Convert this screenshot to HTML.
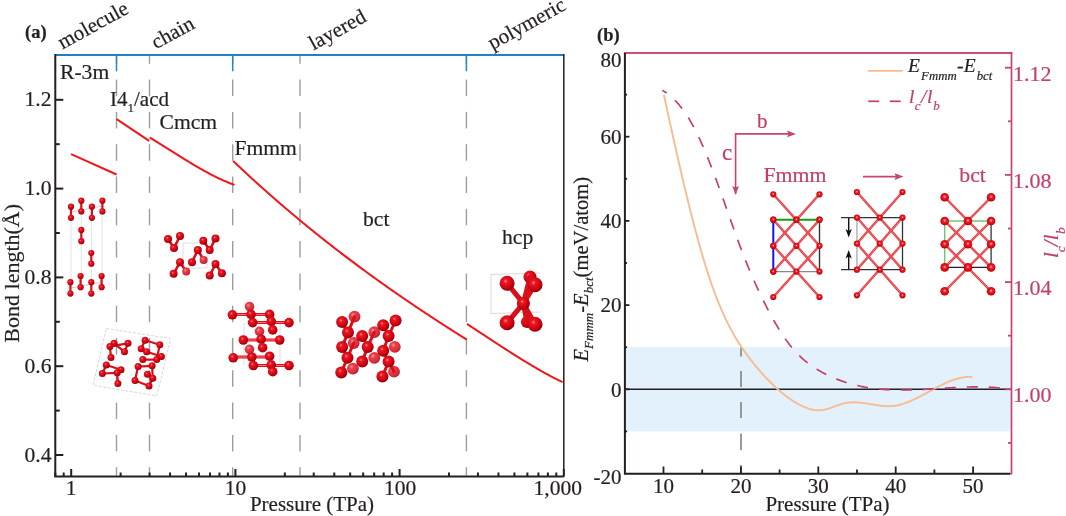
<!DOCTYPE html>
<html><head><meta charset="utf-8"><style>
html,body{margin:0;padding:0;background:#fff;width:1066px;height:516px;overflow:hidden}
svg{display:block;will-change:transform}
</style></head><body>
<svg width="1066" height="516" viewBox="0 0 1066 516">
<rect width="1066" height="516" fill="#fff"/>
<defs>
<radialGradient id="at" cx="0.4" cy="0.36" r="0.64"><stop offset="0" stop-color="#ff8c8c"/><stop offset="0.22" stop-color="#ec1822"/><stop offset="0.8" stop-color="#c4000e"/><stop offset="1" stop-color="#860008"/></radialGradient>
<radialGradient id="atl" cx="0.38" cy="0.35" r="0.65"><stop offset="0" stop-color="#ff9c9c"/><stop offset="0.3" stop-color="#e8404a"/><stop offset="0.85" stop-color="#d42a36"/><stop offset="1" stop-color="#a81c28"/></radialGradient>
<radialGradient id="sat" cx="0.5" cy="0.45" r="0.55"><stop offset="0" stop-color="#ffc8c8"/><stop offset="0.35" stop-color="#f01c24"/><stop offset="0.85" stop-color="#d0000c"/><stop offset="1" stop-color="#a00008"/></radialGradient>
</defs>
<line x1="116.5" y1="56.0" x2="116.5" y2="63.8" stroke="#9d9d9d" stroke-width="1.4"/>
<line x1="116.5" y1="79.6" x2="116.5" y2="96.1" stroke="#9d9d9d" stroke-width="1.4"/>
<line x1="116.5" y1="111.9" x2="116.5" y2="128.4" stroke="#9d9d9d" stroke-width="1.4"/>
<line x1="116.5" y1="144.2" x2="116.5" y2="160.7" stroke="#9d9d9d" stroke-width="1.4"/>
<line x1="116.5" y1="176.5" x2="116.5" y2="193.0" stroke="#9d9d9d" stroke-width="1.4"/>
<line x1="116.5" y1="208.8" x2="116.5" y2="225.3" stroke="#9d9d9d" stroke-width="1.4"/>
<line x1="116.5" y1="241.1" x2="116.5" y2="257.6" stroke="#9d9d9d" stroke-width="1.4"/>
<line x1="116.5" y1="273.4" x2="116.5" y2="289.9" stroke="#9d9d9d" stroke-width="1.4"/>
<line x1="116.5" y1="305.7" x2="116.5" y2="322.2" stroke="#9d9d9d" stroke-width="1.4"/>
<line x1="116.5" y1="338.0" x2="116.5" y2="354.5" stroke="#9d9d9d" stroke-width="1.4"/>
<line x1="116.5" y1="370.3" x2="116.5" y2="386.8" stroke="#9d9d9d" stroke-width="1.4"/>
<line x1="116.5" y1="402.6" x2="116.5" y2="419.1" stroke="#9d9d9d" stroke-width="1.4"/>
<line x1="116.5" y1="434.9" x2="116.5" y2="451.4" stroke="#9d9d9d" stroke-width="1.4"/>
<line x1="116.5" y1="467.2" x2="116.5" y2="475.5" stroke="#9d9d9d" stroke-width="1.4"/>
<line x1="149.5" y1="56.0" x2="149.5" y2="63.8" stroke="#9d9d9d" stroke-width="1.4"/>
<line x1="149.5" y1="79.6" x2="149.5" y2="96.1" stroke="#9d9d9d" stroke-width="1.4"/>
<line x1="149.5" y1="111.9" x2="149.5" y2="128.4" stroke="#9d9d9d" stroke-width="1.4"/>
<line x1="149.5" y1="144.2" x2="149.5" y2="160.7" stroke="#9d9d9d" stroke-width="1.4"/>
<line x1="149.5" y1="176.5" x2="149.5" y2="193.0" stroke="#9d9d9d" stroke-width="1.4"/>
<line x1="149.5" y1="208.8" x2="149.5" y2="225.3" stroke="#9d9d9d" stroke-width="1.4"/>
<line x1="149.5" y1="241.1" x2="149.5" y2="257.6" stroke="#9d9d9d" stroke-width="1.4"/>
<line x1="149.5" y1="273.4" x2="149.5" y2="289.9" stroke="#9d9d9d" stroke-width="1.4"/>
<line x1="149.5" y1="305.7" x2="149.5" y2="322.2" stroke="#9d9d9d" stroke-width="1.4"/>
<line x1="149.5" y1="338.0" x2="149.5" y2="354.5" stroke="#9d9d9d" stroke-width="1.4"/>
<line x1="149.5" y1="370.3" x2="149.5" y2="386.8" stroke="#9d9d9d" stroke-width="1.4"/>
<line x1="149.5" y1="402.6" x2="149.5" y2="419.1" stroke="#9d9d9d" stroke-width="1.4"/>
<line x1="149.5" y1="434.9" x2="149.5" y2="451.4" stroke="#9d9d9d" stroke-width="1.4"/>
<line x1="149.5" y1="467.2" x2="149.5" y2="475.5" stroke="#9d9d9d" stroke-width="1.4"/>
<line x1="232.7" y1="56.0" x2="232.7" y2="63.8" stroke="#9d9d9d" stroke-width="1.4"/>
<line x1="232.7" y1="79.6" x2="232.7" y2="96.1" stroke="#9d9d9d" stroke-width="1.4"/>
<line x1="232.7" y1="111.9" x2="232.7" y2="128.4" stroke="#9d9d9d" stroke-width="1.4"/>
<line x1="232.7" y1="144.2" x2="232.7" y2="160.7" stroke="#9d9d9d" stroke-width="1.4"/>
<line x1="232.7" y1="176.5" x2="232.7" y2="193.0" stroke="#9d9d9d" stroke-width="1.4"/>
<line x1="232.7" y1="208.8" x2="232.7" y2="225.3" stroke="#9d9d9d" stroke-width="1.4"/>
<line x1="232.7" y1="241.1" x2="232.7" y2="257.6" stroke="#9d9d9d" stroke-width="1.4"/>
<line x1="232.7" y1="273.4" x2="232.7" y2="289.9" stroke="#9d9d9d" stroke-width="1.4"/>
<line x1="232.7" y1="305.7" x2="232.7" y2="322.2" stroke="#9d9d9d" stroke-width="1.4"/>
<line x1="232.7" y1="338.0" x2="232.7" y2="354.5" stroke="#9d9d9d" stroke-width="1.4"/>
<line x1="232.7" y1="370.3" x2="232.7" y2="386.8" stroke="#9d9d9d" stroke-width="1.4"/>
<line x1="232.7" y1="402.6" x2="232.7" y2="419.1" stroke="#9d9d9d" stroke-width="1.4"/>
<line x1="232.7" y1="434.9" x2="232.7" y2="451.4" stroke="#9d9d9d" stroke-width="1.4"/>
<line x1="232.7" y1="467.2" x2="232.7" y2="475.5" stroke="#9d9d9d" stroke-width="1.4"/>
<line x1="300.0" y1="56.0" x2="300.0" y2="63.8" stroke="#9d9d9d" stroke-width="1.4"/>
<line x1="300.0" y1="79.6" x2="300.0" y2="96.1" stroke="#9d9d9d" stroke-width="1.4"/>
<line x1="300.0" y1="111.9" x2="300.0" y2="128.4" stroke="#9d9d9d" stroke-width="1.4"/>
<line x1="300.0" y1="144.2" x2="300.0" y2="160.7" stroke="#9d9d9d" stroke-width="1.4"/>
<line x1="300.0" y1="176.5" x2="300.0" y2="193.0" stroke="#9d9d9d" stroke-width="1.4"/>
<line x1="300.0" y1="208.8" x2="300.0" y2="225.3" stroke="#9d9d9d" stroke-width="1.4"/>
<line x1="300.0" y1="241.1" x2="300.0" y2="257.6" stroke="#9d9d9d" stroke-width="1.4"/>
<line x1="300.0" y1="273.4" x2="300.0" y2="289.9" stroke="#9d9d9d" stroke-width="1.4"/>
<line x1="300.0" y1="305.7" x2="300.0" y2="322.2" stroke="#9d9d9d" stroke-width="1.4"/>
<line x1="300.0" y1="338.0" x2="300.0" y2="354.5" stroke="#9d9d9d" stroke-width="1.4"/>
<line x1="300.0" y1="370.3" x2="300.0" y2="386.8" stroke="#9d9d9d" stroke-width="1.4"/>
<line x1="300.0" y1="402.6" x2="300.0" y2="419.1" stroke="#9d9d9d" stroke-width="1.4"/>
<line x1="300.0" y1="434.9" x2="300.0" y2="451.4" stroke="#9d9d9d" stroke-width="1.4"/>
<line x1="300.0" y1="467.2" x2="300.0" y2="475.5" stroke="#9d9d9d" stroke-width="1.4"/>
<line x1="466.4" y1="56.0" x2="466.4" y2="63.8" stroke="#9d9d9d" stroke-width="1.4"/>
<line x1="466.4" y1="79.6" x2="466.4" y2="96.1" stroke="#9d9d9d" stroke-width="1.4"/>
<line x1="466.4" y1="111.9" x2="466.4" y2="128.4" stroke="#9d9d9d" stroke-width="1.4"/>
<line x1="466.4" y1="144.2" x2="466.4" y2="160.7" stroke="#9d9d9d" stroke-width="1.4"/>
<line x1="466.4" y1="176.5" x2="466.4" y2="193.0" stroke="#9d9d9d" stroke-width="1.4"/>
<line x1="466.4" y1="208.8" x2="466.4" y2="225.3" stroke="#9d9d9d" stroke-width="1.4"/>
<line x1="466.4" y1="241.1" x2="466.4" y2="257.6" stroke="#9d9d9d" stroke-width="1.4"/>
<line x1="466.4" y1="273.4" x2="466.4" y2="289.9" stroke="#9d9d9d" stroke-width="1.4"/>
<line x1="466.4" y1="305.7" x2="466.4" y2="322.2" stroke="#9d9d9d" stroke-width="1.4"/>
<line x1="466.4" y1="338.0" x2="466.4" y2="354.5" stroke="#9d9d9d" stroke-width="1.4"/>
<line x1="466.4" y1="370.3" x2="466.4" y2="386.8" stroke="#9d9d9d" stroke-width="1.4"/>
<line x1="466.4" y1="402.6" x2="466.4" y2="419.1" stroke="#9d9d9d" stroke-width="1.4"/>
<line x1="466.4" y1="434.9" x2="466.4" y2="451.4" stroke="#9d9d9d" stroke-width="1.4"/>
<line x1="466.4" y1="467.2" x2="466.4" y2="475.5" stroke="#9d9d9d" stroke-width="1.4"/>
<path d="M71.1,154.1 L116.6,174.5" fill="none" stroke="#f2151b" stroke-width="2"/>
<path d="M116.6,119.2 L149.2,140.9" fill="none" stroke="#f2151b" stroke-width="2"/>
<path d="M149.70,137.52 L150.70,138.13 L151.70,138.73 L152.70,139.34 L153.70,139.95 L154.70,140.57 L155.70,141.18 L156.70,141.80 L157.70,142.42 L158.70,143.04 L159.70,143.66 L160.70,144.28 L161.70,144.91 L162.70,145.53 L163.70,146.16 L164.70,146.79 L165.70,147.42 L166.70,148.05 L167.70,148.68 L168.70,149.31 L169.70,149.94 L170.70,150.57 L171.70,151.20 L172.70,151.83 L173.70,152.46 L174.70,153.08 L175.70,153.71 L176.70,154.34 L177.70,154.97 L178.70,155.59 L179.70,156.22 L180.70,156.84 L181.70,157.46 L182.70,158.08 L183.70,158.70 L184.70,159.32 L185.70,159.93 L186.70,160.55 L187.70,161.16 L188.70,161.77 L189.70,162.37 L190.70,162.97 L191.70,163.58 L192.70,164.17 L193.70,164.77 L194.70,165.36 L195.70,165.95 L196.70,166.53 L197.70,167.12 L198.70,167.69 L199.70,168.27 L200.70,168.84 L201.70,169.40 L202.70,169.97 L203.70,170.53 L204.70,171.08 L205.70,171.63 L206.70,172.17 L207.70,172.71 L208.70,173.25 L209.70,173.78 L210.70,174.30 L211.70,174.82 L212.70,175.33 L213.70,175.84 L214.70,176.34 L215.70,176.84 L216.70,177.33 L217.70,177.81 L218.70,178.29 L219.70,178.76 L220.70,179.23 L221.70,179.69 L222.70,180.14 L223.70,180.58 L224.70,181.02 L225.70,181.45 L226.70,181.88 L227.70,182.29 L228.70,182.70 L229.70,183.10 L230.70,183.49 L231.70,183.88 L232.70,184.26 L233.70,184.62 L234.50,184.91" fill="none" stroke="#f2151b" stroke-width="2" stroke-linejoin="round"/>
<path d="M233.10,160.92 L234.10,161.87 L235.10,162.82 L236.10,163.77 L237.10,164.71 L238.10,165.65 L239.10,166.59 L240.10,167.53 L241.10,168.47 L242.10,169.40 L243.10,170.34 L244.10,171.27 L245.10,172.19 L246.10,173.12 L247.10,174.05 L248.10,174.97 L249.10,175.89 L250.10,176.81 L251.10,177.73 L252.10,178.64 L253.10,179.55 L254.10,180.46 L255.10,181.37 L256.10,182.28 L257.10,183.19 L258.10,184.09 L259.10,184.99 L260.10,185.89 L261.10,186.79 L262.10,187.69 L263.10,188.58 L264.10,189.47 L265.10,190.37 L266.10,191.25 L267.10,192.14 L268.10,193.03 L269.10,193.91 L270.10,194.79 L271.10,195.67 L272.10,196.55 L273.10,197.43 L274.10,198.30 L275.10,199.17 L276.10,200.05 L277.10,200.91 L278.10,201.78 L279.10,202.65 L280.10,203.51 L281.10,204.37 L282.10,205.23 L283.10,206.09 L284.10,206.95 L285.10,207.80 L286.10,208.66 L287.10,209.51 L288.10,210.36 L289.10,211.21 L290.10,212.05 L291.10,212.90 L292.10,213.74 L293.10,214.58 L294.10,215.42 L295.10,216.26 L296.10,217.10 L297.10,217.93 L298.10,218.77 L299.10,219.60 L300.10,220.43 L301.10,221.26 L302.10,222.08 L303.10,222.91 L304.10,223.73 L305.10,224.55 L306.10,225.37 L307.10,226.19 L308.10,227.01 L309.10,227.82 L310.10,228.63 L311.10,229.45 L312.10,230.26 L313.10,231.07 L314.10,231.87 L315.10,232.68 L316.10,233.48 L317.10,234.28 L318.10,235.09 L319.10,235.88 L320.10,236.68 L321.10,237.48 L322.10,238.27 L323.10,239.07 L324.10,239.86 L325.10,240.65 L326.10,241.44 L327.10,242.22 L328.10,243.01 L329.10,243.79 L330.10,244.57 L331.10,245.36 L332.10,246.14 L333.10,246.91 L334.10,247.69 L335.10,248.46 L336.10,249.24 L337.10,250.01 L338.10,250.78 L339.10,251.55 L340.10,252.32 L341.10,253.08 L342.10,253.85 L343.10,254.61 L344.10,255.37 L345.10,256.13 L346.10,256.89 L347.10,257.65 L348.10,258.41 L349.10,259.16 L350.10,259.92 L351.10,260.67 L352.10,261.42 L353.10,262.17 L354.10,262.92 L355.10,263.66 L356.10,264.41 L357.10,265.15 L358.10,265.89 L359.10,266.63 L360.10,267.37 L361.10,268.11 L362.10,268.85 L363.10,269.58 L364.10,270.32 L365.10,271.05 L366.10,271.78 L367.10,272.51 L368.10,273.24 L369.10,273.97 L370.10,274.70 L371.10,275.42 L372.10,276.15 L373.10,276.87 L374.10,277.59 L375.10,278.31 L376.10,279.03 L377.10,279.75 L378.10,280.46 L379.10,281.18 L380.10,281.89 L381.10,282.61 L382.10,283.32 L383.10,284.03 L384.10,284.74 L385.10,285.44 L386.10,286.15 L387.10,286.85 L388.10,287.56 L389.10,288.26 L390.10,288.96 L391.10,289.66 L392.10,290.36 L393.10,291.06 L394.10,291.76 L395.10,292.45 L396.10,293.15 L397.10,293.84 L398.10,294.53 L399.10,295.22 L400.10,295.91 L401.10,296.60 L402.10,297.29 L403.10,297.98 L404.10,298.66 L405.10,299.35 L406.10,300.03 L407.10,300.71 L408.10,301.39 L409.10,302.07 L410.10,302.75 L411.10,303.43 L412.10,304.11 L413.10,304.78 L414.10,305.46 L415.10,306.13 L416.10,306.80 L417.10,307.47 L418.10,308.14 L419.10,308.81 L420.10,309.48 L421.10,310.15 L422.10,310.81 L423.10,311.48 L424.10,312.14 L425.10,312.81 L426.10,313.47 L427.10,314.13 L428.10,314.79 L429.10,315.45 L430.10,316.11 L431.10,316.76 L432.10,317.42 L433.10,318.08 L434.10,318.73 L435.10,319.38 L436.10,320.03 L437.10,320.69 L438.10,321.34 L439.10,321.99 L440.10,322.63 L441.10,323.28 L442.10,323.93 L443.10,324.57 L444.10,325.22 L445.10,325.86 L446.10,326.50 L447.10,327.15 L448.10,327.79 L449.10,328.43 L450.10,329.07 L451.10,329.71 L452.10,330.34 L453.10,330.98 L454.10,331.62 L455.10,332.25 L456.10,332.89 L457.10,333.52 L458.10,334.15 L459.10,334.78 L460.10,335.41 L461.10,336.04 L462.10,336.67 L463.10,337.30 L464.10,337.93 L465.10,338.55 L466.10,339.18 L466.70,339.56" fill="none" stroke="#f2151b" stroke-width="2" stroke-linejoin="round"/>
<path d="M467.00,323.96 L468.00,324.61 L469.00,325.26 L470.00,325.92 L471.00,326.57 L472.00,327.22 L473.00,327.88 L474.00,328.53 L475.00,329.18 L476.00,329.84 L477.00,330.50 L478.00,331.15 L479.00,331.81 L480.00,332.47 L481.00,333.12 L482.00,333.78 L483.00,334.44 L484.00,335.09 L485.00,335.75 L486.00,336.41 L487.00,337.07 L488.00,337.72 L489.00,338.38 L490.00,339.04 L491.00,339.69 L492.00,340.35 L493.00,341.00 L494.00,341.66 L495.00,342.31 L496.00,342.97 L497.00,343.62 L498.00,344.27 L499.00,344.92 L500.00,345.57 L501.00,346.22 L502.00,346.87 L503.00,347.52 L504.00,348.16 L505.00,348.81 L506.00,349.45 L507.00,350.10 L508.00,350.74 L509.00,351.38 L510.00,352.02 L511.00,352.65 L512.00,353.29 L513.00,353.93 L514.00,354.56 L515.00,355.19 L516.00,355.82 L517.00,356.45 L518.00,357.07 L519.00,357.70 L520.00,358.32 L521.00,358.94 L522.00,359.55 L523.00,360.17 L524.00,360.78 L525.00,361.40 L526.00,362.00 L527.00,362.61 L528.00,363.21 L529.00,363.82 L530.00,364.42 L531.00,365.01 L532.00,365.61 L533.00,366.20 L534.00,366.79 L535.00,367.37 L536.00,367.96 L537.00,368.54 L538.00,369.11 L539.00,369.69 L540.00,370.26 L541.00,370.83 L542.00,371.39 L543.00,371.95 L544.00,372.51 L545.00,373.07 L546.00,373.62 L547.00,374.17 L548.00,374.71 L549.00,375.25 L550.00,375.79 L551.00,376.32 L552.00,376.85 L553.00,377.38 L554.00,377.90 L555.00,378.42 L556.00,378.93 L557.00,379.44 L558.00,379.95 L559.00,380.45 L560.00,380.95 L561.00,381.45 L562.00,381.94 L562.50,382.18" fill="none" stroke="#f2151b" stroke-width="2" stroke-linejoin="round"/>
<line x1="55.3" y1="55.0" x2="563.8" y2="55.0" stroke="#1f80c8" stroke-width="2.1"/>
<path d="M55.3,54.0 V476.5 H563.8" fill="none" stroke="#231f20" stroke-width="2"/>
<line x1="563.8" y1="54.0" x2="563.8" y2="476.5" stroke="#231f20" stroke-width="1.5"/>
<line x1="116.5" y1="55.0" x2="116.5" y2="71.3" stroke="#2485cc" stroke-width="1.5"/>
<line x1="232.7" y1="55.0" x2="232.7" y2="71.3" stroke="#2485cc" stroke-width="1.5"/>
<line x1="466.4" y1="55.0" x2="466.4" y2="71.3" stroke="#2485cc" stroke-width="1.5"/>
<line x1="55.3" y1="455.00" x2="63.3" y2="455.00" stroke="#231f20" stroke-width="2"/>
<text x="51.5" y="461.60" text-anchor="end" font-size="21.6" font-family="Liberation Serif, serif" fill="#231f20" stroke="#231f20" stroke-width="0.2">0.4</text>
<line x1="55.3" y1="366.20" x2="63.3" y2="366.20" stroke="#231f20" stroke-width="2"/>
<text x="51.5" y="372.80" text-anchor="end" font-size="21.6" font-family="Liberation Serif, serif" fill="#231f20" stroke="#231f20" stroke-width="0.2">0.6</text>
<line x1="55.3" y1="277.40" x2="63.3" y2="277.40" stroke="#231f20" stroke-width="2"/>
<text x="51.5" y="284.00" text-anchor="end" font-size="21.6" font-family="Liberation Serif, serif" fill="#231f20" stroke="#231f20" stroke-width="0.2">0.8</text>
<line x1="55.3" y1="188.60" x2="63.3" y2="188.60" stroke="#231f20" stroke-width="2"/>
<text x="51.5" y="195.20" text-anchor="end" font-size="21.6" font-family="Liberation Serif, serif" fill="#231f20" stroke="#231f20" stroke-width="0.2">1.0</text>
<line x1="55.3" y1="99.80" x2="63.3" y2="99.80" stroke="#231f20" stroke-width="2"/>
<text x="51.5" y="106.40" text-anchor="end" font-size="21.6" font-family="Liberation Serif, serif" fill="#231f20" stroke="#231f20" stroke-width="0.2">1.2</text>
<line x1="55.3" y1="410.60" x2="59.8" y2="410.60" stroke="#231f20" stroke-width="2"/>
<line x1="55.3" y1="321.80" x2="59.8" y2="321.80" stroke="#231f20" stroke-width="2"/>
<line x1="55.3" y1="233.00" x2="59.8" y2="233.00" stroke="#231f20" stroke-width="2"/>
<line x1="55.3" y1="144.20" x2="59.8" y2="144.20" stroke="#231f20" stroke-width="2"/>
<line x1="71.20" y1="476.5" x2="71.20" y2="469.0" stroke="#231f20" stroke-width="2"/>
<line x1="235.40" y1="476.5" x2="235.40" y2="469.0" stroke="#231f20" stroke-width="2"/>
<line x1="399.60" y1="476.5" x2="399.60" y2="469.0" stroke="#231f20" stroke-width="2"/>
<line x1="563.80" y1="476.5" x2="563.80" y2="469.0" stroke="#231f20" stroke-width="2"/>
<line x1="55.29" y1="476.5" x2="55.29" y2="472.5" stroke="#231f20" stroke-width="2"/>
<line x1="63.69" y1="476.5" x2="63.69" y2="472.5" stroke="#231f20" stroke-width="2"/>
<line x1="120.63" y1="476.5" x2="120.63" y2="472.5" stroke="#231f20" stroke-width="2"/>
<line x1="149.54" y1="476.5" x2="149.54" y2="472.5" stroke="#231f20" stroke-width="2"/>
<line x1="170.06" y1="476.5" x2="170.06" y2="472.5" stroke="#231f20" stroke-width="2"/>
<line x1="185.97" y1="476.5" x2="185.97" y2="472.5" stroke="#231f20" stroke-width="2"/>
<line x1="198.97" y1="476.5" x2="198.97" y2="472.5" stroke="#231f20" stroke-width="2"/>
<line x1="209.97" y1="476.5" x2="209.97" y2="472.5" stroke="#231f20" stroke-width="2"/>
<line x1="219.49" y1="476.5" x2="219.49" y2="472.5" stroke="#231f20" stroke-width="2"/>
<line x1="227.89" y1="476.5" x2="227.89" y2="472.5" stroke="#231f20" stroke-width="2"/>
<line x1="284.83" y1="476.5" x2="284.83" y2="472.5" stroke="#231f20" stroke-width="2"/>
<line x1="313.74" y1="476.5" x2="313.74" y2="472.5" stroke="#231f20" stroke-width="2"/>
<line x1="334.26" y1="476.5" x2="334.26" y2="472.5" stroke="#231f20" stroke-width="2"/>
<line x1="350.17" y1="476.5" x2="350.17" y2="472.5" stroke="#231f20" stroke-width="2"/>
<line x1="363.17" y1="476.5" x2="363.17" y2="472.5" stroke="#231f20" stroke-width="2"/>
<line x1="374.17" y1="476.5" x2="374.17" y2="472.5" stroke="#231f20" stroke-width="2"/>
<line x1="383.69" y1="476.5" x2="383.69" y2="472.5" stroke="#231f20" stroke-width="2"/>
<line x1="392.09" y1="476.5" x2="392.09" y2="472.5" stroke="#231f20" stroke-width="2"/>
<line x1="449.03" y1="476.5" x2="449.03" y2="472.5" stroke="#231f20" stroke-width="2"/>
<line x1="477.94" y1="476.5" x2="477.94" y2="472.5" stroke="#231f20" stroke-width="2"/>
<line x1="498.46" y1="476.5" x2="498.46" y2="472.5" stroke="#231f20" stroke-width="2"/>
<line x1="514.37" y1="476.5" x2="514.37" y2="472.5" stroke="#231f20" stroke-width="2"/>
<line x1="527.37" y1="476.5" x2="527.37" y2="472.5" stroke="#231f20" stroke-width="2"/>
<line x1="538.37" y1="476.5" x2="538.37" y2="472.5" stroke="#231f20" stroke-width="2"/>
<line x1="547.89" y1="476.5" x2="547.89" y2="472.5" stroke="#231f20" stroke-width="2"/>
<line x1="556.29" y1="476.5" x2="556.29" y2="472.5" stroke="#231f20" stroke-width="2"/>
<text x="71.20" y="494.5" text-anchor="middle" font-size="21.5" font-family="Liberation Serif, serif" fill="#231f20" stroke="#231f20" stroke-width="0.2">1</text>
<text x="235.40" y="494.5" text-anchor="middle" font-size="21.5" font-family="Liberation Serif, serif" fill="#231f20" stroke="#231f20" stroke-width="0.2">10</text>
<text x="400.10" y="494.5" text-anchor="middle" font-size="21.5" font-family="Liberation Serif, serif" fill="#231f20" stroke="#231f20" stroke-width="0.2">100</text>
<text x="557.80" y="494.5" text-anchor="middle" font-size="21.5" font-family="Liberation Serif, serif" fill="#231f20" stroke="#231f20" stroke-width="0.2">1,000</text>
<text x="312" y="510.5" text-anchor="middle" font-size="21" font-family="Liberation Serif, serif" fill="#231f20" stroke="#231f20" stroke-width="0.2">Pressure (TPa)</text>
<text transform="translate(18.8,273.3) rotate(-90)" text-anchor="middle" font-size="22" font-family="Liberation Serif, serif" fill="#231f20" stroke="#231f20" stroke-width="0.2">Bond length(Å)</text>
<text x="25" y="37.5" font-size="18.5" font-weight="bold" font-family="Liberation Serif, serif" fill="#231f20" stroke="#231f20" stroke-width="0.2">(a)</text>
<text transform="translate(62.5,49.5) rotate(-28.8)" font-size="21" font-family="Liberation Serif, serif" fill="#231f20" stroke="#231f20" stroke-width="0.2">molecule</text>
<text transform="translate(156.0,49.5) rotate(-28.8)" font-size="21" font-family="Liberation Serif, serif" fill="#231f20" stroke="#231f20" stroke-width="0.2">chain</text>
<text transform="translate(313.5,50.5) rotate(-28.8)" font-size="21" font-family="Liberation Serif, serif" fill="#231f20" stroke="#231f20" stroke-width="0.2">layered</text>
<text transform="translate(492.5,50.0) rotate(-28.8)" font-size="21" font-family="Liberation Serif, serif" fill="#231f20" stroke="#231f20" stroke-width="0.2">polymeric</text>
<text x="60.0" y="79.0" font-size="21.6" font-family="Liberation Serif, serif" fill="#231f20" stroke="#231f20" stroke-width="0.2">R-3m</text>
<text x="159.5" y="129.4" font-size="21.6" font-family="Liberation Serif, serif" fill="#231f20" stroke="#231f20" stroke-width="0.2">Cmcm</text>
<text x="234.5" y="154.5" font-size="21.6" font-family="Liberation Serif, serif" fill="#231f20" stroke="#231f20" stroke-width="0.2">Fmmm</text>
<text x="363.0" y="226.4" font-size="21.6" font-family="Liberation Serif, serif" fill="#231f20" stroke="#231f20" stroke-width="0.2">bct</text>
<text x="502.0" y="243.5" font-size="21.6" font-family="Liberation Serif, serif" fill="#231f20" stroke="#231f20" stroke-width="0.2">hcp</text>
<text x="110" y="106.2" font-size="21" font-family="Liberation Serif, serif" fill="#231f20" stroke="#231f20" stroke-width="0.2">I4<tspan font-size="13" dy="6">1</tspan><tspan dy="-6">/acd</tspan></text>
<line x1="71.0" y1="212.0" x2="71.0" y2="288.0" stroke="#d0d0d0" stroke-width="0.6"/>
<line x1="102.0" y1="206.0" x2="102.0" y2="282.0" stroke="#d0d0d0" stroke-width="0.6"/>
<line x1="81.3" y1="206.0" x2="81.3" y2="282.0" stroke="#d0d0d0" stroke-width="0.6"/>
<line x1="91.6" y1="212.0" x2="91.6" y2="288.0" stroke="#d0d0d0" stroke-width="0.6"/>
<line x1="71.0" y1="212.0" x2="102.0" y2="206.0" stroke="#b0b0b0" stroke-width="0.6"/>
<line x1="71.0" y1="288.0" x2="102.0" y2="282.0" stroke="#b0b0b0" stroke-width="0.6"/>
<line x1="71.0" y1="206.7" x2="71.0" y2="217.8" stroke="#d8101a" stroke-width="2.2" stroke-linecap="round"/>
<circle cx="71.0" cy="206.7" r="3.1" fill="url(#at)"/>
<circle cx="71.0" cy="217.8" r="3.1" fill="url(#at)"/>
<line x1="81.3" y1="200.7" x2="81.3" y2="211.4" stroke="#d8101a" stroke-width="2.2" stroke-linecap="round"/>
<circle cx="81.3" cy="200.7" r="3.1" fill="url(#at)"/>
<circle cx="81.3" cy="211.4" r="3.1" fill="url(#at)"/>
<line x1="91.9" y1="206.7" x2="91.9" y2="217.8" stroke="#d8101a" stroke-width="2.2" stroke-linecap="round"/>
<circle cx="91.9" cy="206.7" r="3.1" fill="url(#at)"/>
<circle cx="91.9" cy="217.8" r="3.1" fill="url(#at)"/>
<line x1="102.4" y1="200.7" x2="102.4" y2="211.4" stroke="#d8101a" stroke-width="2.2" stroke-linecap="round"/>
<circle cx="102.4" cy="200.7" r="3.1" fill="url(#at)"/>
<circle cx="102.4" cy="211.4" r="3.1" fill="url(#at)"/>
<line x1="81.3" y1="229.9" x2="81.3" y2="241.2" stroke="#d8101a" stroke-width="2.2" stroke-linecap="round"/>
<circle cx="81.3" cy="229.9" r="3.1" fill="url(#at)"/>
<circle cx="81.3" cy="241.2" r="3.1" fill="url(#at)"/>
<line x1="91.3" y1="253.0" x2="91.3" y2="263.7" stroke="#d8101a" stroke-width="2.2" stroke-linecap="round"/>
<circle cx="91.3" cy="253.0" r="3.1" fill="url(#at)"/>
<circle cx="91.3" cy="263.7" r="3.1" fill="url(#at)"/>
<line x1="70.4" y1="282.2" x2="70.4" y2="293.6" stroke="#d8101a" stroke-width="2.2" stroke-linecap="round"/>
<circle cx="70.4" cy="282.2" r="3.1" fill="url(#at)"/>
<circle cx="70.4" cy="293.6" r="3.1" fill="url(#at)"/>
<line x1="80.6" y1="276.0" x2="80.6" y2="287.2" stroke="#d8101a" stroke-width="2.2" stroke-linecap="round"/>
<circle cx="80.6" cy="276.0" r="3.1" fill="url(#at)"/>
<circle cx="80.6" cy="287.2" r="3.1" fill="url(#at)"/>
<line x1="91.3" y1="282.2" x2="91.3" y2="293.6" stroke="#d8101a" stroke-width="2.2" stroke-linecap="round"/>
<circle cx="91.3" cy="282.2" r="3.1" fill="url(#at)"/>
<circle cx="91.3" cy="293.6" r="3.1" fill="url(#at)"/>
<line x1="101.6" y1="276.0" x2="101.6" y2="287.2" stroke="#d8101a" stroke-width="2.2" stroke-linecap="round"/>
<circle cx="101.6" cy="276.0" r="3.1" fill="url(#at)"/>
<circle cx="101.6" cy="287.2" r="3.1" fill="url(#at)"/>
<polygon points="106.3,328.5 170.7,338.6 156.7,396 93.1,385.2" fill="none" stroke="#c4c4c4" stroke-width="0.7" stroke-dasharray="3,1.5"/>
<line x1="109.9" y1="346.4" x2="128.0" y2="343.3" stroke="#d8101a" stroke-width="2.2" stroke-linecap="round"/>
<line x1="109.9" y1="346.4" x2="111.0" y2="357.6" stroke="#d8101a" stroke-width="2.2" stroke-linecap="round"/>
<line x1="114.0" y1="343.3" x2="124.5" y2="351.8" stroke="#d8101a" stroke-width="2.2" stroke-linecap="round"/>
<line x1="128.0" y1="343.3" x2="124.5" y2="351.8" stroke="#d8101a" stroke-width="2.2" stroke-linecap="round"/>
<line x1="145.1" y1="340.2" x2="159.8" y2="344.8" stroke="#d8101a" stroke-width="2.2" stroke-linecap="round"/>
<line x1="141.2" y1="348.7" x2="146.6" y2="351.8" stroke="#d8101a" stroke-width="2.2" stroke-linecap="round"/>
<line x1="159.8" y1="344.8" x2="156.7" y2="359.6" stroke="#d8101a" stroke-width="2.2" stroke-linecap="round"/>
<line x1="142.8" y1="359.6" x2="156.7" y2="359.6" stroke="#d8101a" stroke-width="2.2" stroke-linecap="round"/>
<line x1="146.6" y1="351.8" x2="161.4" y2="356.5" stroke="#d8101a" stroke-width="2.2" stroke-linecap="round"/>
<line x1="145.1" y1="340.2" x2="141.2" y2="348.7" stroke="#d8101a" stroke-width="2.2" stroke-linecap="round"/>
<line x1="106.3" y1="365.0" x2="121.0" y2="369.7" stroke="#d8101a" stroke-width="2.2" stroke-linecap="round"/>
<line x1="102.4" y1="373.5" x2="117.2" y2="372.8" stroke="#d8101a" stroke-width="2.2" stroke-linecap="round"/>
<line x1="117.2" y1="372.8" x2="117.9" y2="383.6" stroke="#d8101a" stroke-width="2.2" stroke-linecap="round"/>
<line x1="106.3" y1="365.0" x2="102.4" y2="373.5" stroke="#d8101a" stroke-width="2.2" stroke-linecap="round"/>
<line x1="121.0" y1="369.7" x2="117.2" y2="372.8" stroke="#d8101a" stroke-width="2.2" stroke-linecap="round"/>
<line x1="138.1" y1="366.6" x2="152.1" y2="365.8" stroke="#d8101a" stroke-width="2.2" stroke-linecap="round"/>
<line x1="138.1" y1="366.6" x2="135.0" y2="380.5" stroke="#d8101a" stroke-width="2.2" stroke-linecap="round"/>
<line x1="135.0" y1="380.5" x2="149.0" y2="386.0" stroke="#d8101a" stroke-width="2.2" stroke-linecap="round"/>
<line x1="152.8" y1="378.2" x2="149.0" y2="386.0" stroke="#d8101a" stroke-width="2.2" stroke-linecap="round"/>
<line x1="147.4" y1="374.3" x2="152.8" y2="378.2" stroke="#d8101a" stroke-width="2.2" stroke-linecap="round"/>
<line x1="152.1" y1="365.8" x2="152.8" y2="378.2" stroke="#d8101a" stroke-width="2.2" stroke-linecap="round"/>
<circle cx="114.0" cy="343.3" r="3.5" fill="url(#at)"/>
<circle cx="109.9" cy="346.4" r="3.5" fill="url(#at)"/>
<circle cx="128.0" cy="343.3" r="3.5" fill="url(#at)"/>
<circle cx="124.5" cy="351.8" r="3.5" fill="url(#at)"/>
<circle cx="111.0" cy="357.6" r="3.5" fill="url(#at)"/>
<circle cx="145.1" cy="340.2" r="3.5" fill="url(#at)"/>
<circle cx="159.8" cy="344.8" r="3.5" fill="url(#at)"/>
<circle cx="141.2" cy="348.7" r="3.5" fill="url(#at)"/>
<circle cx="146.6" cy="351.8" r="3.5" fill="url(#at)"/>
<circle cx="161.4" cy="356.5" r="3.5" fill="url(#at)"/>
<circle cx="142.8" cy="359.6" r="3.5" fill="url(#at)"/>
<circle cx="156.7" cy="359.6" r="3.5" fill="url(#at)"/>
<circle cx="106.3" cy="365.0" r="3.5" fill="url(#at)"/>
<circle cx="121.0" cy="369.7" r="3.5" fill="url(#at)"/>
<circle cx="102.4" cy="373.5" r="3.5" fill="url(#at)"/>
<circle cx="117.2" cy="372.8" r="3.5" fill="url(#at)"/>
<circle cx="117.9" cy="383.6" r="3.5" fill="url(#at)"/>
<circle cx="138.1" cy="366.6" r="3.5" fill="url(#at)"/>
<circle cx="152.1" cy="365.8" r="3.5" fill="url(#at)"/>
<circle cx="147.4" cy="374.3" r="3.5" fill="url(#at)"/>
<circle cx="152.8" cy="378.2" r="3.5" fill="url(#at)"/>
<circle cx="135.0" cy="380.5" r="3.5" fill="url(#at)"/>
<circle cx="149.0" cy="386.0" r="3.5" fill="url(#at)"/>
<line x1="183.0" y1="243.0" x2="183.0" y2="268.0" stroke="#c8c8c8" stroke-width="0.6"/>
<line x1="207.0" y1="243.0" x2="207.0" y2="268.0" stroke="#c8c8c8" stroke-width="0.6"/>
<line x1="183.0" y1="243.0" x2="207.0" y2="243.0" stroke="#c8c8c8" stroke-width="0.6"/>
<line x1="183.0" y1="268.0" x2="207.0" y2="268.0" stroke="#c8c8c8" stroke-width="0.6"/>
<line x1="168.0" y1="239.0" x2="174.0" y2="248.0" stroke="#d8101a" stroke-width="2.6" stroke-linecap="round"/>
<line x1="174.0" y1="248.0" x2="180.0" y2="236.0" stroke="#d8101a" stroke-width="2.6" stroke-linecap="round"/>
<line x1="203.3" y1="240.7" x2="209.7" y2="250.0" stroke="#d8101a" stroke-width="2.6" stroke-linecap="round"/>
<line x1="209.7" y1="250.0" x2="215.5" y2="238.4" stroke="#d8101a" stroke-width="2.6" stroke-linecap="round"/>
<line x1="192.0" y1="262.2" x2="197.8" y2="250.0" stroke="#d8101a" stroke-width="2.6" stroke-linecap="round"/>
<line x1="197.8" y1="250.0" x2="203.6" y2="259.9" stroke="#d8101a" stroke-width="2.6" stroke-linecap="round"/>
<line x1="173.6" y1="273.8" x2="180.0" y2="262.2" stroke="#d8101a" stroke-width="2.6" stroke-linecap="round"/>
<line x1="180.0" y1="262.2" x2="186.2" y2="271.5" stroke="#d8101a" stroke-width="2.6" stroke-linecap="round"/>
<line x1="209.7" y1="275.6" x2="215.5" y2="264.0" stroke="#d8101a" stroke-width="2.6" stroke-linecap="round"/>
<line x1="215.5" y1="264.0" x2="221.9" y2="273.3" stroke="#d8101a" stroke-width="2.6" stroke-linecap="round"/>
<circle cx="168.0" cy="239.0" r="4.0" fill="url(#at)"/>
<circle cx="174.0" cy="248.0" r="4.0" fill="url(#at)"/>
<circle cx="180.0" cy="236.0" r="4.0" fill="url(#at)"/>
<circle cx="203.3" cy="240.7" r="4.0" fill="url(#at)"/>
<circle cx="209.7" cy="250.0" r="4.0" fill="url(#at)"/>
<circle cx="215.5" cy="238.4" r="4.0" fill="url(#at)"/>
<circle cx="192.0" cy="262.2" r="4.0" fill="url(#at)"/>
<circle cx="197.8" cy="250.0" r="4.0" fill="url(#at)"/>
<circle cx="203.6" cy="259.9" r="4.0" fill="url(#atl)"/>
<circle cx="173.6" cy="273.8" r="4.0" fill="url(#at)"/>
<circle cx="180.0" cy="262.2" r="4.0" fill="url(#at)"/>
<circle cx="186.2" cy="271.5" r="4.0" fill="url(#atl)"/>
<circle cx="209.7" cy="275.6" r="4.0" fill="url(#at)"/>
<circle cx="215.5" cy="264.0" r="4.0" fill="url(#at)"/>
<circle cx="221.9" cy="273.3" r="4.0" fill="url(#at)"/>
<line x1="244.0" y1="323.0" x2="244.0" y2="365.0" stroke="#c8c8c8" stroke-width="0.6"/>
<line x1="280.0" y1="323.0" x2="280.0" y2="365.0" stroke="#c8c8c8" stroke-width="0.6"/>
<line x1="232.4" y1="308.0" x2="232.4" y2="320.0" stroke="#999" stroke-width="1.0"/>
<line x1="232.4" y1="340.0" x2="232.4" y2="352.0" stroke="#999" stroke-width="1.0"/>
<line x1="232.4" y1="314.6" x2="269.6" y2="314.6" stroke="#e0101a" stroke-width="3"/>
<line x1="232.4" y1="314.6" x2="269.6" y2="314.6" stroke="#ff9090" stroke-width="0.8"/>
<line x1="252.6" y1="322.6" x2="289.0" y2="322.6" stroke="#e0101a" stroke-width="3"/>
<line x1="252.6" y1="322.6" x2="289.0" y2="322.6" stroke="#ff9090" stroke-width="0.8"/>
<line x1="243.3" y1="340.0" x2="279.7" y2="340.0" stroke="#e0101a" stroke-width="3"/>
<line x1="243.3" y1="340.0" x2="279.7" y2="340.0" stroke="#ff9090" stroke-width="0.8"/>
<line x1="233.2" y1="357.0" x2="269.6" y2="357.0" stroke="#e0101a" stroke-width="3"/>
<line x1="233.2" y1="357.0" x2="269.6" y2="357.0" stroke="#ff9090" stroke-width="0.8"/>
<line x1="253.3" y1="365.5" x2="289.0" y2="365.5" stroke="#e0101a" stroke-width="3"/>
<line x1="253.3" y1="365.5" x2="289.0" y2="365.5" stroke="#ff9090" stroke-width="0.8"/>
<circle cx="249.5" cy="306.6" r="4.8" fill="url(#atl)"/>
<circle cx="232.4" cy="314.8" r="4.8" fill="url(#at)"/>
<circle cx="251.0" cy="314.4" r="4.8" fill="url(#at)"/>
<circle cx="269.6" cy="314.4" r="4.8" fill="url(#at)"/>
<circle cx="252.6" cy="322.6" r="4.8" fill="url(#at)"/>
<circle cx="271.2" cy="321.4" r="4.8" fill="url(#at)"/>
<circle cx="289.0" cy="322.6" r="4.8" fill="url(#at)"/>
<circle cx="272.7" cy="329.9" r="4.8" fill="url(#at)"/>
<circle cx="259.5" cy="331.4" r="4.8" fill="url(#atl)"/>
<circle cx="243.3" cy="340.0" r="4.8" fill="url(#at)"/>
<circle cx="261.1" cy="339.2" r="4.8" fill="url(#at)"/>
<circle cx="279.7" cy="340.0" r="4.8" fill="url(#at)"/>
<circle cx="262.6" cy="347.7" r="4.8" fill="url(#at)"/>
<circle cx="249.5" cy="349.3" r="4.8" fill="url(#atl)"/>
<circle cx="233.2" cy="357.8" r="4.8" fill="url(#at)"/>
<circle cx="251.8" cy="357.0" r="4.8" fill="url(#at)"/>
<circle cx="269.6" cy="356.2" r="4.8" fill="url(#at)"/>
<circle cx="253.3" cy="365.5" r="4.8" fill="url(#at)"/>
<circle cx="271.2" cy="364.8" r="4.8" fill="url(#at)"/>
<circle cx="289.0" cy="365.5" r="4.8" fill="url(#at)"/>
<circle cx="272.7" cy="371.7" r="4.8" fill="url(#at)"/>
<circle cx="354.5" cy="316.6" r="5.9" fill="url(#atl)"/>
<circle cx="353.7" cy="343.0" r="5.9" fill="url(#atl)"/>
<circle cx="352.9" cy="368.6" r="5.9" fill="url(#atl)"/>
<circle cx="374.3" cy="332.2" r="5.9" fill="url(#atl)"/>
<circle cx="374.3" cy="357.8" r="5.9" fill="url(#atl)"/>
<circle cx="394.8" cy="346.9" r="5.9" fill="url(#atl)"/>
<circle cx="394.0" cy="371.7" r="5.9" fill="url(#atl)"/>
<line x1="342.1" y1="322.1" x2="348.0" y2="332.6" stroke="#d8101a" stroke-width="3.0" stroke-linecap="round"/>
<line x1="348.0" y1="332.6" x2="342.1" y2="346.9" stroke="#d8101a" stroke-width="3.0" stroke-linecap="round"/>
<line x1="342.1" y1="346.9" x2="347.5" y2="357.8" stroke="#d8101a" stroke-width="3.0" stroke-linecap="round"/>
<line x1="347.5" y1="357.8" x2="341.3" y2="372.5" stroke="#d8101a" stroke-width="3.0" stroke-linecap="round"/>
<line x1="354.5" y1="316.6" x2="348.0" y2="332.6" stroke="#d8101a" stroke-width="3.0" stroke-linecap="round"/>
<line x1="353.7" y1="343.0" x2="347.5" y2="357.8" stroke="#d8101a" stroke-width="3.0" stroke-linecap="round"/>
<line x1="362.2" y1="336.0" x2="367.7" y2="346.9" stroke="#d8101a" stroke-width="3.0" stroke-linecap="round"/>
<line x1="367.7" y1="346.9" x2="362.2" y2="361.6" stroke="#d8101a" stroke-width="3.0" stroke-linecap="round"/>
<line x1="374.3" y1="332.2" x2="367.7" y2="346.9" stroke="#d8101a" stroke-width="3.0" stroke-linecap="round"/>
<line x1="383.2" y1="325.2" x2="388.6" y2="336.0" stroke="#d8101a" stroke-width="3.0" stroke-linecap="round"/>
<line x1="388.6" y1="336.0" x2="383.2" y2="350.8" stroke="#d8101a" stroke-width="3.0" stroke-linecap="round"/>
<line x1="383.2" y1="350.8" x2="388.6" y2="361.6" stroke="#d8101a" stroke-width="3.0" stroke-linecap="round"/>
<line x1="388.6" y1="361.6" x2="382.4" y2="376.4" stroke="#d8101a" stroke-width="3.0" stroke-linecap="round"/>
<line x1="395.6" y1="320.5" x2="388.6" y2="336.0" stroke="#d8101a" stroke-width="3.0" stroke-linecap="round"/>
<line x1="394.0" y1="371.7" x2="388.6" y2="361.6" stroke="#d8101a" stroke-width="3.0" stroke-linecap="round"/>
<circle cx="342.1" cy="322.1" r="6.0" fill="url(#at)"/>
<circle cx="348.0" cy="332.6" r="6.0" fill="url(#at)"/>
<circle cx="342.1" cy="346.9" r="6.0" fill="url(#at)"/>
<circle cx="347.5" cy="357.8" r="6.0" fill="url(#at)"/>
<circle cx="341.3" cy="372.5" r="6.0" fill="url(#at)"/>
<circle cx="362.2" cy="336.0" r="6.0" fill="url(#at)"/>
<circle cx="367.7" cy="346.9" r="6.0" fill="url(#at)"/>
<circle cx="362.2" cy="361.6" r="6.0" fill="url(#at)"/>
<circle cx="395.6" cy="320.5" r="6.0" fill="url(#at)"/>
<circle cx="383.2" cy="325.2" r="6.0" fill="url(#at)"/>
<circle cx="388.6" cy="336.0" r="6.0" fill="url(#at)"/>
<circle cx="383.2" cy="350.8" r="6.0" fill="url(#at)"/>
<circle cx="388.6" cy="361.6" r="6.0" fill="url(#at)"/>
<circle cx="382.4" cy="376.4" r="6.0" fill="url(#at)"/>
<path d="M491,274.5 L540,273 M491,313.5 L540,312 M491,274.5 V313.5" fill="none" stroke="#c8c8c8" stroke-width="0.7"/>
<circle cx="530.0" cy="277.0" r="6.5" fill="url(#at)"/>
<circle cx="527.0" cy="322.0" r="6.0" fill="url(#at)"/>
<line x1="523.4" y1="303.4" x2="530.0" y2="277.0" stroke="#d8101a" stroke-width="5.0" stroke-linecap="round"/>
<line x1="523.4" y1="303.4" x2="527.0" y2="322.0" stroke="#d8101a" stroke-width="5.0" stroke-linecap="round"/>
<line x1="523.4" y1="303.4" x2="507.1" y2="283.3" stroke="#d8101a" stroke-width="5.0" stroke-linecap="round"/>
<line x1="523.4" y1="303.4" x2="535.0" y2="284.8" stroke="#d8101a" stroke-width="5.0" stroke-linecap="round"/>
<line x1="523.4" y1="303.4" x2="507.1" y2="322.8" stroke="#d8101a" stroke-width="5.0" stroke-linecap="round"/>
<line x1="523.4" y1="303.4" x2="535.0" y2="324.3" stroke="#d8101a" stroke-width="5.0" stroke-linecap="round"/>
<circle cx="523.4" cy="303.4" r="6.5" fill="url(#at)"/>
<circle cx="507.1" cy="283.3" r="7.5" fill="url(#at)"/>
<circle cx="535.0" cy="284.8" r="7.5" fill="url(#at)"/>
<circle cx="507.1" cy="322.8" r="7.5" fill="url(#at)"/>
<circle cx="535.0" cy="324.3" r="7.5" fill="url(#at)"/>
<rect x="624.9" y="347.2" width="386.6" height="84.2" fill="#e2f1fb"/>
<line x1="624.9" y1="389.30" x2="1011.5" y2="389.30" stroke="#231f20" stroke-width="1.6"/>
<line x1="741" y1="347.4" x2="741" y2="356.5" stroke="#8e8e8e" stroke-width="1.8"/>
<line x1="741" y1="371.0" x2="741" y2="387.0" stroke="#8e8e8e" stroke-width="1.8"/>
<line x1="741" y1="402.0" x2="741" y2="418.0" stroke="#8e8e8e" stroke-width="1.8"/>
<line x1="741" y1="433.5" x2="741" y2="450.0" stroke="#8e8e8e" stroke-width="1.8"/>
<line x1="741" y1="465.0" x2="741" y2="473.0" stroke="#8e8e8e" stroke-width="1.8"/>
<path d="M663.90,94.85 L664.90,99.45 L665.90,104.04 L666.90,108.64 L667.90,113.22 L668.90,117.80 L669.90,122.36 L670.90,126.92 L671.90,131.46 L672.90,135.98 L673.90,140.49 L674.90,144.97 L675.90,149.44 L676.90,153.88 L677.90,158.30 L678.90,162.69 L679.90,167.05 L680.90,171.38 L681.90,175.69 L682.90,179.96 L683.90,184.20 L684.90,188.40 L685.90,192.57 L686.90,196.71 L687.90,200.81 L688.90,204.87 L689.90,208.89 L690.90,212.87 L691.90,216.81 L692.90,220.71 L693.90,224.56 L694.90,228.37 L695.90,232.13 L696.90,235.84 L697.90,239.51 L698.90,243.13 L699.90,246.69 L700.90,250.21 L701.90,253.67 L702.90,257.08 L703.90,260.43 L704.90,263.73 L705.90,266.97 L706.90,270.15 L707.90,273.27 L708.90,276.33 L709.90,279.33 L710.90,282.26 L711.90,285.13 L712.90,287.94 L713.90,290.70 L714.90,293.39 L715.90,296.02 L716.90,298.60 L717.90,301.12 L718.90,303.58 L719.90,305.99 L720.90,308.35 L721.90,310.66 L722.90,312.91 L723.90,315.12 L724.90,317.28 L725.90,319.39 L726.90,321.46 L727.90,323.48 L728.90,325.46 L729.90,327.39 L730.90,329.28 L731.90,331.13 L732.90,332.95 L733.90,334.72 L734.90,336.46 L735.90,338.16 L736.90,339.82 L737.90,341.45 L738.90,343.05 L739.90,344.62 L740.90,346.16 L741.90,347.66 L742.90,349.14 L743.90,350.59 L744.90,352.02 L745.90,353.42 L746.90,354.79 L747.90,356.15 L748.90,357.48 L749.90,358.79 L750.90,360.08 L751.90,361.35 L752.90,362.61 L753.90,363.85 L754.90,365.07 L755.90,366.28 L756.90,367.47 L757.90,368.66 L758.90,369.83 L759.90,370.98 L760.90,372.13 L761.90,373.25 L762.90,374.37 L763.90,375.47 L764.90,376.56 L765.90,377.63 L766.90,378.69 L767.90,379.73 L768.90,380.76 L769.90,381.78 L770.90,382.78 L771.90,383.76 L772.90,384.74 L773.90,385.69 L774.90,386.63 L775.90,387.56 L776.90,388.47 L777.90,389.36 L778.90,390.24 L779.90,391.10 L780.90,391.95 L781.90,392.78 L782.90,393.59 L783.90,394.39 L784.90,395.18 L785.90,395.94 L786.90,396.69 L787.90,397.42 L788.90,398.14 L789.90,398.84 L790.90,399.52 L791.90,400.18 L792.90,400.83 L793.90,401.46 L794.90,402.07 L795.90,402.67 L796.90,403.25 L797.90,403.80 L798.90,404.35 L799.90,404.87 L800.90,405.37 L801.90,405.86 L802.90,406.33 L803.90,406.78 L804.90,407.20 L805.90,407.60 L806.90,407.98 L807.90,408.34 L808.90,408.67 L809.90,408.97 L810.90,409.24 L811.90,409.49 L812.90,409.71 L813.90,409.89 L814.90,410.04 L815.90,410.16 L816.90,410.25 L817.90,410.30 L818.90,410.31 L819.90,410.29 L820.90,410.23 L821.90,410.12 L822.90,409.98 L823.90,409.80 L824.90,409.59 L825.90,409.35 L826.90,409.09 L827.90,408.79 L828.90,408.48 L829.90,408.15 L830.90,407.80 L831.90,407.45 L832.90,407.08 L833.90,406.71 L834.90,406.34 L835.90,405.97 L836.90,405.60 L837.90,405.24 L838.90,404.88 L839.90,404.55 L840.90,404.22 L841.90,403.92 L842.90,403.64 L843.90,403.38 L844.90,403.16 L845.90,402.96 L846.90,402.79 L847.90,402.64 L848.90,402.53 L849.90,402.43 L850.90,402.36 L851.90,402.32 L852.90,402.29 L853.90,402.29 L854.90,402.30 L855.90,402.33 L856.90,402.38 L857.90,402.45 L858.90,402.52 L859.90,402.62 L860.90,402.72 L861.90,402.84 L862.90,402.96 L863.90,403.10 L864.90,403.24 L865.90,403.39 L866.90,403.55 L867.90,403.71 L868.90,403.87 L869.90,404.04 L870.90,404.21 L871.90,404.38 L872.90,404.54 L873.90,404.71 L874.90,404.87 L875.90,405.03 L876.90,405.18 L877.90,405.33 L878.90,405.47 L879.90,405.59 L880.90,405.71 L881.90,405.82 L882.90,405.92 L883.90,406.00 L884.90,406.07 L885.90,406.13 L886.90,406.16 L887.90,406.18 L888.90,406.19 L889.90,406.17 L890.90,406.13 L891.90,406.07 L892.90,405.98 L893.90,405.87 L894.90,405.74 L895.90,405.58 L896.90,405.40 L897.90,405.20 L898.90,404.98 L899.90,404.73 L900.90,404.47 L901.90,404.19 L902.90,403.88 L903.90,403.56 L904.90,403.22 L905.90,402.87 L906.90,402.50 L907.90,402.11 L908.90,401.71 L909.90,401.30 L910.90,400.87 L911.90,400.43 L912.90,399.97 L913.90,399.51 L914.90,399.04 L915.90,398.55 L916.90,398.06 L917.90,397.56 L918.90,397.05 L919.90,396.53 L920.90,396.01 L921.90,395.48 L922.90,394.95 L923.90,394.41 L924.90,393.87 L925.90,393.32 L926.90,392.78 L927.90,392.23 L928.90,391.68 L929.90,391.13 L930.90,390.58 L931.90,390.04 L932.90,389.49 L933.90,388.95 L934.90,388.41 L935.90,387.87 L936.90,387.34 L937.90,386.82 L938.90,386.30 L939.90,385.78 L940.90,385.28 L941.90,384.78 L942.90,384.29 L943.90,383.81 L944.90,383.34 L945.90,382.89 L946.90,382.44 L947.90,382.00 L948.90,381.58 L949.90,381.17 L950.90,380.78 L951.90,380.40 L952.90,380.04 L953.90,379.69 L954.90,379.36 L955.90,379.04 L956.90,378.75 L957.90,378.47 L958.90,378.22 L959.90,377.98 L960.90,377.77 L961.90,377.57 L962.90,377.40 L963.90,377.25 L964.90,377.13 L965.90,377.03 L966.90,376.96 L967.90,376.91 L968.90,376.88 L969.90,376.89 L970.90,376.92 L971.90,376.98 L972.30,377.02" fill="none" stroke="#f9bb92" stroke-width="1.9" stroke-linejoin="round"/>
<path d="M662.40,90.32 L663.40,90.92 L664.40,91.56 L665.40,92.22 L666.40,92.92 L667.40,93.65 L668.40,94.41 L669.40,95.21 L670.40,96.04 L671.40,96.90 L672.40,97.80 L673.40,98.74 L674.40,99.72 L675.40,100.73 L676.40,101.79 L677.40,102.88 L678.40,104.02 L679.40,105.19 L680.40,106.41 L681.40,107.67 L682.40,108.98 L683.40,110.33 L684.40,111.72 L685.40,113.16 L686.40,114.65 L687.40,116.19 L688.40,117.77 L689.40,119.41 L690.40,121.09 L691.40,122.82 L692.40,124.61 L693.40,126.45 L694.40,128.34 L695.40,130.28 L696.40,132.27 L697.40,134.30 L698.40,136.38 L699.40,138.51 L700.40,140.68 L701.40,142.90 L702.40,145.15 L703.40,147.45 L704.40,149.78 L705.40,152.15 L706.40,154.56 L707.40,157.00 L708.40,159.48 L709.40,161.99 L710.40,164.53 L711.40,167.10 L712.40,169.70 L713.40,172.32 L714.40,174.97 L715.40,177.65 L716.40,180.35 L717.40,183.07 L718.40,185.81 L719.40,188.57 L720.40,191.34 L721.40,194.13 L722.40,196.93 L723.40,199.74 L724.40,202.56 L725.40,205.38 L726.40,208.21 L727.40,211.04 L728.40,213.87 L729.40,216.70 L730.40,219.52 L731.40,222.34 L732.40,225.15 L733.40,227.95 L734.40,230.74 L735.40,233.52 L736.40,236.28 L737.40,239.03 L738.40,241.75 L739.40,244.45 L740.40,247.14 L741.40,249.79 L742.40,252.42 L743.40,255.02 L744.40,257.59 L745.40,260.12 L746.40,262.62 L747.40,265.09 L748.40,267.53 L749.40,269.94 L750.40,272.31 L751.40,274.66 L752.40,276.98 L753.40,279.27 L754.40,281.53 L755.40,283.76 L756.40,285.96 L757.40,288.14 L758.40,290.30 L759.40,292.43 L760.40,294.53 L761.40,296.61 L762.40,298.67 L763.40,300.70 L764.40,302.71 L765.40,304.70 L766.40,306.67 L767.40,308.61 L768.40,310.53 L769.40,312.42 L770.40,314.28 L771.40,316.12 L772.40,317.94 L773.40,319.73 L774.40,321.49 L775.40,323.22 L776.40,324.93 L777.40,326.61 L778.40,328.26 L779.40,329.88 L780.40,331.47 L781.40,333.03 L782.40,334.56 L783.40,336.07 L784.40,337.54 L785.40,338.97 L786.40,340.38 L787.40,341.75 L788.40,343.10 L789.40,344.40 L790.40,345.68 L791.40,346.92 L792.40,348.13 L793.40,349.30 L794.40,350.44 L795.40,351.55 L796.40,352.63 L797.40,353.69 L798.40,354.71 L799.40,355.70 L800.40,356.67 L801.40,357.61 L802.40,358.52 L803.40,359.41 L804.40,360.27 L805.40,361.11 L806.40,361.92 L807.40,362.72 L808.40,363.49 L809.40,364.24 L810.40,364.97 L811.40,365.68 L812.40,366.37 L813.40,367.04 L814.40,367.70 L815.40,368.34 L816.40,368.96 L817.40,369.57 L818.40,370.16 L819.40,370.74 L820.40,371.31 L821.40,371.87 L822.40,372.41 L823.40,372.94 L824.40,373.47 L825.40,373.98 L826.40,374.48 L827.40,374.97 L828.40,375.46 L829.40,375.93 L830.40,376.39 L831.40,376.85 L832.40,377.29 L833.40,377.73 L834.40,378.15 L835.40,378.57 L836.40,378.98 L837.40,379.37 L838.40,379.76 L839.40,380.14 L840.40,380.51 L841.40,380.88 L842.40,381.23 L843.40,381.58 L844.40,381.91 L845.40,382.24 L846.40,382.56 L847.40,382.88 L848.40,383.18 L849.40,383.48 L850.40,383.77 L851.40,384.05 L852.40,384.32 L853.40,384.58 L854.40,384.84 L855.40,385.09 L856.40,385.33 L857.40,385.57 L858.40,385.80 L859.40,386.02 L860.40,386.23 L861.40,386.44 L862.40,386.64 L863.40,386.83 L864.40,387.02 L865.40,387.20 L866.40,387.37 L867.40,387.54 L868.40,387.70 L869.40,387.86 L870.40,388.01 L871.40,388.15 L872.40,388.28 L873.40,388.42 L874.40,388.54 L875.40,388.66 L876.40,388.77 L877.40,388.88 L878.40,388.98 L879.40,389.08 L880.40,389.17 L881.40,389.26 L882.40,389.34 L883.40,389.42 L884.40,389.49 L885.40,389.56 L886.40,389.62 L887.40,389.68 L888.40,389.73 L889.40,389.78 L890.40,389.82 L891.40,389.86 L892.40,389.90 L893.40,389.93 L894.40,389.96 L895.40,389.98 L896.40,390.00 L897.40,390.02 L898.40,390.03 L899.40,390.04 L900.40,390.04 L901.40,390.04 L902.40,390.04 L903.40,390.04 L904.40,390.03 L905.40,390.02 L906.40,390.00 L907.40,389.99 L908.40,389.97 L909.40,389.94 L910.40,389.92 L911.40,389.89 L912.40,389.86 L913.40,389.83 L914.40,389.79 L915.40,389.76 L916.40,389.72 L917.40,389.68 L918.40,389.63 L919.40,389.59 L920.40,389.54 L921.40,389.49 L922.40,389.45 L923.40,389.39 L924.40,389.34 L925.40,389.29 L926.40,389.23 L927.40,389.18 L928.40,389.12 L929.40,389.06 L930.40,389.00 L931.40,388.94 L932.40,388.88 L933.40,388.82 L934.40,388.76 L935.40,388.70 L936.40,388.63 L937.40,388.57 L938.40,388.51 L939.40,388.45 L940.40,388.38 L941.40,388.32 L942.40,388.26 L943.40,388.20 L944.40,388.14 L945.40,388.07 L946.40,388.01 L947.40,387.95 L948.40,387.89 L949.40,387.84 L950.40,387.78 L951.40,387.72 L952.40,387.67 L953.40,387.61 L954.40,387.56 L955.40,387.51 L956.40,387.46 L957.40,387.41 L958.40,387.36 L959.40,387.31 L960.40,387.27 L961.40,387.23 L962.40,387.19 L963.40,387.15 L964.40,387.12 L965.40,387.08 L966.40,387.05 L967.40,387.02 L968.40,387.00 L969.40,386.97 L970.40,386.95 L971.40,386.93 L972.40,386.92 L973.40,386.90 L974.40,386.90 L975.40,386.89 L976.40,386.89 L977.40,386.89 L978.40,386.89 L979.40,386.90 L980.40,386.91 L981.40,386.92 L982.40,386.94 L983.40,386.96 L984.40,386.99 L985.40,387.02 L986.40,387.05 L987.40,387.09 L988.40,387.13 L989.40,387.18 L990.40,387.23 L991.40,387.28 L992.40,387.34 L993.40,387.41 L994.40,387.48 L995.40,387.55 L996.40,387.63 L997.40,387.72 L998.40,387.80 L999.40,387.90 L1000.40,388.00 L1001.40,388.11 L1002.40,388.22 L1003.40,388.33 L1004.40,388.46 L1005.40,388.58 L1006.40,388.72 L1007.40,388.86 L1008.40,389.00 L1009.40,389.15 L1010.40,389.31 L1011.00,389.41" fill="none" stroke="#c63c66" stroke-width="1.65" stroke-dasharray="11,11" stroke-dashoffset="6" stroke-linejoin="round"/>
<line x1="623.9" y1="53.0" x2="1012.5" y2="53.0" stroke="#cb5078" stroke-width="2"/>
<line x1="1011.5" y1="53.0" x2="1011.5" y2="474.5" stroke="#c8446e" stroke-width="1.7"/>
<path d="M624.9,53.0 V473.7 H1010.5" fill="none" stroke="#231f20" stroke-width="2"/>
<line x1="624.9" y1="136.70" x2="629.4" y2="136.70" stroke="#231f20" stroke-width="1.8"/>
<line x1="624.9" y1="220.90" x2="629.4" y2="220.90" stroke="#231f20" stroke-width="1.8"/>
<line x1="624.9" y1="305.10" x2="629.4" y2="305.10" stroke="#231f20" stroke-width="1.8"/>
<line x1="624.9" y1="389.30" x2="629.4" y2="389.30" stroke="#231f20" stroke-width="1.8"/>
<line x1="624.9" y1="94.60" x2="627.1" y2="94.60" stroke="#231f20" stroke-width="1.8"/>
<line x1="624.9" y1="178.80" x2="627.1" y2="178.80" stroke="#231f20" stroke-width="1.8"/>
<line x1="624.9" y1="263.00" x2="627.1" y2="263.00" stroke="#231f20" stroke-width="1.8"/>
<line x1="624.9" y1="347.20" x2="627.1" y2="347.20" stroke="#231f20" stroke-width="1.8"/>
<line x1="624.9" y1="431.40" x2="627.1" y2="431.40" stroke="#231f20" stroke-width="1.8"/>
<text x="621.5" y="67.10" text-anchor="end" font-size="21" font-family="Liberation Serif, serif" fill="#231f20" stroke="#231f20" stroke-width="0.2">80</text>
<text x="621.5" y="144.00" text-anchor="end" font-size="21" font-family="Liberation Serif, serif" fill="#231f20" stroke="#231f20" stroke-width="0.2">60</text>
<text x="621.5" y="228.20" text-anchor="end" font-size="21" font-family="Liberation Serif, serif" fill="#231f20" stroke="#231f20" stroke-width="0.2">40</text>
<text x="621.5" y="312.40" text-anchor="end" font-size="21" font-family="Liberation Serif, serif" fill="#231f20" stroke="#231f20" stroke-width="0.2">20</text>
<text x="621.5" y="396.60" text-anchor="end" font-size="21" font-family="Liberation Serif, serif" fill="#231f20" stroke="#231f20" stroke-width="0.2">0</text>
<text x="621.5" y="483.50" text-anchor="end" font-size="21" font-family="Liberation Serif, serif" fill="#231f20" stroke="#231f20" stroke-width="0.2">-20</text>
<line x1="663.50" y1="473.5" x2="663.50" y2="466.5" stroke="#231f20" stroke-width="1.8"/>
<text x="663.50" y="492.5" text-anchor="middle" font-size="21" font-family="Liberation Serif, serif" fill="#231f20" stroke="#231f20" stroke-width="0.2">10</text>
<line x1="740.90" y1="473.5" x2="740.90" y2="466.5" stroke="#231f20" stroke-width="1.8"/>
<text x="740.90" y="492.5" text-anchor="middle" font-size="21" font-family="Liberation Serif, serif" fill="#231f20" stroke="#231f20" stroke-width="0.2">20</text>
<line x1="818.30" y1="473.5" x2="818.30" y2="466.5" stroke="#231f20" stroke-width="1.8"/>
<text x="818.30" y="492.5" text-anchor="middle" font-size="21" font-family="Liberation Serif, serif" fill="#231f20" stroke="#231f20" stroke-width="0.2">30</text>
<line x1="895.70" y1="473.5" x2="895.70" y2="466.5" stroke="#231f20" stroke-width="1.8"/>
<text x="895.70" y="492.5" text-anchor="middle" font-size="21" font-family="Liberation Serif, serif" fill="#231f20" stroke="#231f20" stroke-width="0.2">40</text>
<line x1="973.10" y1="473.5" x2="973.10" y2="466.5" stroke="#231f20" stroke-width="1.8"/>
<text x="973.10" y="492.5" text-anchor="middle" font-size="21" font-family="Liberation Serif, serif" fill="#231f20" stroke="#231f20" stroke-width="0.2">50</text>
<line x1="702.20" y1="473.5" x2="702.20" y2="469.5" stroke="#231f20" stroke-width="1.8"/>
<line x1="779.60" y1="473.5" x2="779.60" y2="469.5" stroke="#231f20" stroke-width="1.8"/>
<line x1="857.00" y1="473.5" x2="857.00" y2="469.5" stroke="#231f20" stroke-width="1.8"/>
<line x1="934.40" y1="473.5" x2="934.40" y2="469.5" stroke="#231f20" stroke-width="1.8"/>
<text x="827.5" y="510.5" text-anchor="middle" font-size="21" font-family="Liberation Serif, serif" fill="#231f20" stroke="#231f20" stroke-width="0.2">Pressure (TPa)</text>
<line x1="1005.0" y1="67.70" x2="1011.5" y2="67.70" stroke="#c8446e" stroke-width="1.8"/>
<text x="1013" y="80.70" font-size="22" font-family="Liberation Serif, serif" fill="#c33f6a" stroke="#c33f6a" stroke-width="0.2">1.12</text>
<line x1="1005.0" y1="174.90" x2="1011.5" y2="174.90" stroke="#c8446e" stroke-width="1.8"/>
<text x="1013" y="187.90" font-size="22" font-family="Liberation Serif, serif" fill="#c33f6a" stroke="#c33f6a" stroke-width="0.2">1.08</text>
<line x1="1005.0" y1="282.10" x2="1011.5" y2="282.10" stroke="#c8446e" stroke-width="1.8"/>
<text x="1013" y="295.10" font-size="22" font-family="Liberation Serif, serif" fill="#c33f6a" stroke="#c33f6a" stroke-width="0.2">1.04</text>
<line x1="1005.0" y1="389.30" x2="1011.5" y2="389.30" stroke="#c8446e" stroke-width="1.8"/>
<text x="1013" y="402.30" font-size="22" font-family="Liberation Serif, serif" fill="#c33f6a" stroke="#c33f6a" stroke-width="0.2">1.00</text>
<line x1="1008.0" y1="121.30" x2="1011.5" y2="121.30" stroke="#c8446e" stroke-width="1.8"/>
<line x1="1008.0" y1="228.50" x2="1011.5" y2="228.50" stroke="#c8446e" stroke-width="1.8"/>
<line x1="1008.0" y1="335.70" x2="1011.5" y2="335.70" stroke="#c8446e" stroke-width="1.8"/>
<line x1="1008.0" y1="442.90" x2="1011.5" y2="442.90" stroke="#c8446e" stroke-width="1.8"/>
<text x="597" y="41" font-size="18.5" font-weight="bold" font-family="Liberation Serif, serif" fill="#231f20" stroke="#231f20" stroke-width="0.2">(b)</text>
<text transform="translate(588.3,361.5) rotate(-90)" font-size="20.6" font-family="Liberation Serif, serif" fill="#231f20" stroke="#231f20" stroke-width="0.2"><tspan font-style="italic">E</tspan><tspan font-size="13" font-style="italic" dy="5">Fmmm</tspan><tspan dy="-5">-</tspan><tspan font-style="italic">E</tspan><tspan font-size="13" font-style="italic" dy="5">bct</tspan><tspan dy="-5">(meV/atom)</tspan></text>
<text transform="translate(1057.5,258) rotate(-90)" font-size="21" font-family="Liberation Serif, serif" fill="#c33f6a" font-style="italic" stroke="#c33f6a" stroke-width="0.2">l<tspan font-size="13.5" dy="7.5">c</tspan><tspan dy="-7.5">/l</tspan><tspan font-size="13.5" dx="0.5" dy="7.5">b</tspan></text>
<line x1="868" y1="70.8" x2="902.7" y2="70.8" stroke="#f9bb92" stroke-width="1.7"/>
<text x="908" y="72.4" font-size="19.5" font-family="Liberation Serif, serif" fill="#231f20" font-style="italic" stroke="#231f20" stroke-width="0.2">E<tspan font-size="12.8" dx="1.2" dy="7.4">Fmmm</tspan><tspan font-style="normal" dx="0.3" dy="-7.4">-</tspan><tspan dx="0.3">E</tspan><tspan font-size="12.8" dx="1" dy="7.4">bct</tspan></text>
<line x1="868.2" y1="101.3" x2="879.2" y2="101.3" stroke="#c63c66" stroke-width="1.7"/>
<line x1="889.8" y1="101.3" x2="900.7" y2="101.3" stroke="#c63c66" stroke-width="1.7"/>
<text x="909" y="102.9" font-size="19.5" font-family="Liberation Serif, serif" fill="#c33f6a" font-style="italic" stroke="#c33f6a" stroke-width="0.2">l<tspan font-size="13" dx="0.3" dy="7.5">c</tspan><tspan dx="0.5" dy="-7.5">/</tspan><tspan dx="0.5">l</tspan><tspan font-size="13" dx="1" dy="7.5">b</tspan></text>
<path d="M735.6,194 V133.9 H792" fill="none" stroke="#c8446e" stroke-width="1.6"/>
<path d="M796,133.9 L787,130.6 L788.5,133.9 L787,137.2 Z" fill="#c8446e"/>
<path d="M735.6,195 L732.3,186 L735.6,187.5 L738.9,186 Z" fill="#c8446e"/>
<text x="757" y="127.6" font-size="21" font-family="Liberation Serif, serif" fill="#c33f6a" stroke="#c33f6a" stroke-width="0.2">b</text>
<text x="722" y="160" font-size="23" font-family="Liberation Serif, serif" fill="#c33f6a" stroke="#c33f6a" stroke-width="0.2">c</text>
<text x="763.5" y="181.7" font-size="21.8" font-family="Liberation Serif, serif" fill="#c33f6a" stroke="#c33f6a" stroke-width="0.2">Fmmm</text>
<text x="959.3" y="181.7" font-size="21.8" font-family="Liberation Serif, serif" fill="#c33f6a" stroke="#c33f6a" stroke-width="0.2">bct</text>
<path d="M863,176.6 H899" fill="none" stroke="#c8446e" stroke-width="1.6"/>
<path d="M903.5,176.6 L894.5,173.3 L896,176.6 L894.5,179.9 Z" fill="#c8446e"/>
<line x1="773.3" y1="271.6" x2="819.5" y2="271.6" stroke="#888" stroke-width="1.4"/>
<line x1="819.5" y1="219.7" x2="819.5" y2="271.6" stroke="#333" stroke-width="1.4"/>
<line x1="773.3" y1="219.7" x2="819.5" y2="271.6" stroke="#e8343a" stroke-width="2.3"/>
<line x1="773.3" y1="219.7" x2="819.5" y2="271.6" stroke="#f8a8a8" stroke-width="0.7" stroke-opacity="0.7"/>
<line x1="773.3" y1="194.3" x2="819.5" y2="245.8" stroke="#e8343a" stroke-width="2.3"/>
<line x1="773.3" y1="194.3" x2="819.5" y2="245.8" stroke="#f8a8a8" stroke-width="0.7" stroke-opacity="0.7"/>
<line x1="773.3" y1="245.8" x2="819.5" y2="297.0" stroke="#e8343a" stroke-width="2.3"/>
<line x1="773.3" y1="245.8" x2="819.5" y2="297.0" stroke="#f8a8a8" stroke-width="0.7" stroke-opacity="0.7"/>
<line x1="773.3" y1="271.6" x2="819.5" y2="219.7" stroke="#e8343a" stroke-width="2.3"/>
<line x1="773.3" y1="271.6" x2="819.5" y2="219.7" stroke="#f8a8a8" stroke-width="0.7" stroke-opacity="0.7"/>
<line x1="773.3" y1="245.8" x2="819.5" y2="194.3" stroke="#e8343a" stroke-width="2.3"/>
<line x1="773.3" y1="245.8" x2="819.5" y2="194.3" stroke="#f8a8a8" stroke-width="0.7" stroke-opacity="0.7"/>
<line x1="773.3" y1="297.0" x2="819.5" y2="245.8" stroke="#e8343a" stroke-width="2.3"/>
<line x1="773.3" y1="297.0" x2="819.5" y2="245.8" stroke="#f8a8a8" stroke-width="0.7" stroke-opacity="0.7"/>
<circle cx="773.3" cy="194.3" r="3.1" fill="url(#sat)"/>
<circle cx="819.5" cy="194.3" r="3.1" fill="url(#sat)"/>
<circle cx="773.3" cy="219.7" r="3.1" fill="url(#sat)"/>
<circle cx="796.4" cy="219.7" r="3.1" fill="url(#sat)"/>
<circle cx="819.5" cy="219.7" r="3.1" fill="url(#sat)"/>
<circle cx="773.3" cy="245.8" r="3.1" fill="url(#sat)"/>
<circle cx="796.4" cy="245.8" r="3.1" fill="url(#sat)"/>
<circle cx="819.5" cy="245.8" r="3.1" fill="url(#sat)"/>
<circle cx="773.3" cy="271.6" r="3.1" fill="url(#sat)"/>
<circle cx="796.4" cy="271.6" r="3.1" fill="url(#sat)"/>
<circle cx="819.5" cy="271.6" r="3.1" fill="url(#sat)"/>
<circle cx="773.3" cy="297.0" r="3.1" fill="url(#sat)"/>
<circle cx="819.5" cy="297.0" r="3.1" fill="url(#sat)"/>
<line x1="773.3" y1="219.7" x2="819.5" y2="219.7" stroke="#10a010" stroke-width="2"/>
<line x1="773.3" y1="219.7" x2="773.3" y2="271.6" stroke="#1414e6" stroke-width="2"/>
<circle cx="773.3" cy="219.7" r="3.1" fill="url(#sat)"/>
<circle cx="796.4" cy="219.7" r="3.1" fill="url(#sat)"/>
<circle cx="819.5" cy="219.7" r="3.1" fill="url(#sat)"/>
<circle cx="773.3" cy="245.8" r="3.1" fill="url(#sat)"/>
<circle cx="773.3" cy="271.6" r="3.1" fill="url(#sat)"/>
<line x1="841" y1="217.6" x2="902.5" y2="217.6" stroke="#333" stroke-width="1.3"/>
<line x1="841" y1="269.7" x2="902.5" y2="269.7" stroke="#333" stroke-width="1.3"/>
<line x1="856.9" y1="217.6" x2="856.9" y2="269.7" stroke="#aaa" stroke-width="1.3"/>
<line x1="902.5" y1="217.6" x2="902.5" y2="269.7" stroke="#333" stroke-width="1.3"/>
<line x1="856.9" y1="217.6" x2="902.5" y2="269.7" stroke="#e8343a" stroke-width="2.3"/>
<line x1="856.9" y1="217.6" x2="902.5" y2="269.7" stroke="#f8a8a8" stroke-width="0.7" stroke-opacity="0.7"/>
<line x1="856.9" y1="192.0" x2="902.5" y2="243.6" stroke="#e8343a" stroke-width="2.3"/>
<line x1="856.9" y1="192.0" x2="902.5" y2="243.6" stroke="#f8a8a8" stroke-width="0.7" stroke-opacity="0.7"/>
<line x1="856.9" y1="243.6" x2="902.5" y2="295.3" stroke="#e8343a" stroke-width="2.3"/>
<line x1="856.9" y1="243.6" x2="902.5" y2="295.3" stroke="#f8a8a8" stroke-width="0.7" stroke-opacity="0.7"/>
<line x1="856.9" y1="269.7" x2="902.5" y2="217.6" stroke="#e8343a" stroke-width="2.3"/>
<line x1="856.9" y1="269.7" x2="902.5" y2="217.6" stroke="#f8a8a8" stroke-width="0.7" stroke-opacity="0.7"/>
<line x1="856.9" y1="243.6" x2="902.5" y2="192.0" stroke="#e8343a" stroke-width="2.3"/>
<line x1="856.9" y1="243.6" x2="902.5" y2="192.0" stroke="#f8a8a8" stroke-width="0.7" stroke-opacity="0.7"/>
<line x1="856.9" y1="295.3" x2="902.5" y2="243.6" stroke="#e8343a" stroke-width="2.3"/>
<line x1="856.9" y1="295.3" x2="902.5" y2="243.6" stroke="#f8a8a8" stroke-width="0.7" stroke-opacity="0.7"/>
<circle cx="856.9" cy="192.0" r="3.1" fill="url(#sat)"/>
<circle cx="902.5" cy="192.0" r="3.1" fill="url(#sat)"/>
<circle cx="856.9" cy="217.6" r="3.1" fill="url(#sat)"/>
<circle cx="879.7" cy="217.6" r="3.1" fill="url(#sat)"/>
<circle cx="902.5" cy="217.6" r="3.1" fill="url(#sat)"/>
<circle cx="856.9" cy="243.6" r="3.1" fill="url(#sat)"/>
<circle cx="879.7" cy="243.6" r="3.1" fill="url(#sat)"/>
<circle cx="902.5" cy="243.6" r="3.1" fill="url(#sat)"/>
<circle cx="856.9" cy="269.7" r="3.1" fill="url(#sat)"/>
<circle cx="879.7" cy="269.7" r="3.1" fill="url(#sat)"/>
<circle cx="902.5" cy="269.7" r="3.1" fill="url(#sat)"/>
<circle cx="856.9" cy="295.3" r="3.1" fill="url(#sat)"/>
<circle cx="902.5" cy="295.3" r="3.1" fill="url(#sat)"/>
<path d="M848.7,218 V232" stroke="#111" stroke-width="1.4"/><path d="M848.7,237.5 L845.6,229 L848.7,231 L851.8,229 Z" fill="#111"/>
<path d="M848.7,269.5 V255.5" stroke="#111" stroke-width="1.4"/><path d="M848.7,250 L845.6,258.5 L848.7,256.5 L851.8,258.5 Z" fill="#111"/>
<line x1="944.7" y1="221" x2="991.1" y2="221" stroke="#6cc86c" stroke-width="1.4"/>
<line x1="944.7" y1="221" x2="944.7" y2="267.4" stroke="#6cc86c" stroke-width="1.4"/>
<line x1="944.7" y1="267.4" x2="991.1" y2="267.4" stroke="#222" stroke-width="1.4"/>
<line x1="991.1" y1="221" x2="991.1" y2="267.4" stroke="#444" stroke-width="1.4"/>
<line x1="944.7" y1="221.0" x2="991.1" y2="267.4" stroke="#e8343a" stroke-width="2.3"/>
<line x1="944.7" y1="221.0" x2="991.1" y2="267.4" stroke="#f8a8a8" stroke-width="0.7" stroke-opacity="0.7"/>
<line x1="944.7" y1="197.2" x2="991.1" y2="244.2" stroke="#e8343a" stroke-width="2.3"/>
<line x1="944.7" y1="197.2" x2="991.1" y2="244.2" stroke="#f8a8a8" stroke-width="0.7" stroke-opacity="0.7"/>
<line x1="944.7" y1="244.2" x2="991.1" y2="291.2" stroke="#e8343a" stroke-width="2.3"/>
<line x1="944.7" y1="244.2" x2="991.1" y2="291.2" stroke="#f8a8a8" stroke-width="0.7" stroke-opacity="0.7"/>
<line x1="944.7" y1="267.4" x2="991.1" y2="221.0" stroke="#e8343a" stroke-width="2.3"/>
<line x1="944.7" y1="267.4" x2="991.1" y2="221.0" stroke="#f8a8a8" stroke-width="0.7" stroke-opacity="0.7"/>
<line x1="944.7" y1="244.2" x2="991.1" y2="197.2" stroke="#e8343a" stroke-width="2.3"/>
<line x1="944.7" y1="244.2" x2="991.1" y2="197.2" stroke="#f8a8a8" stroke-width="0.7" stroke-opacity="0.7"/>
<line x1="944.7" y1="291.2" x2="991.1" y2="244.2" stroke="#e8343a" stroke-width="2.3"/>
<line x1="944.7" y1="291.2" x2="991.1" y2="244.2" stroke="#f8a8a8" stroke-width="0.7" stroke-opacity="0.7"/>
<circle cx="944.7" cy="197.2" r="4.3" fill="url(#sat)"/>
<circle cx="991.1" cy="197.2" r="4.3" fill="url(#sat)"/>
<circle cx="944.7" cy="221.0" r="4.3" fill="url(#sat)"/>
<circle cx="967.9" cy="221.0" r="4.3" fill="url(#sat)"/>
<circle cx="991.1" cy="221.0" r="4.3" fill="url(#sat)"/>
<circle cx="944.7" cy="244.2" r="4.3" fill="url(#sat)"/>
<circle cx="967.9" cy="244.2" r="4.3" fill="url(#sat)"/>
<circle cx="991.1" cy="244.2" r="4.3" fill="url(#sat)"/>
<circle cx="944.7" cy="267.4" r="4.3" fill="url(#sat)"/>
<circle cx="967.9" cy="267.4" r="4.3" fill="url(#sat)"/>
<circle cx="991.1" cy="267.4" r="4.3" fill="url(#sat)"/>
<circle cx="944.7" cy="291.2" r="4.3" fill="url(#sat)"/>
<circle cx="991.1" cy="291.2" r="4.3" fill="url(#sat)"/>
</svg></body></html>
